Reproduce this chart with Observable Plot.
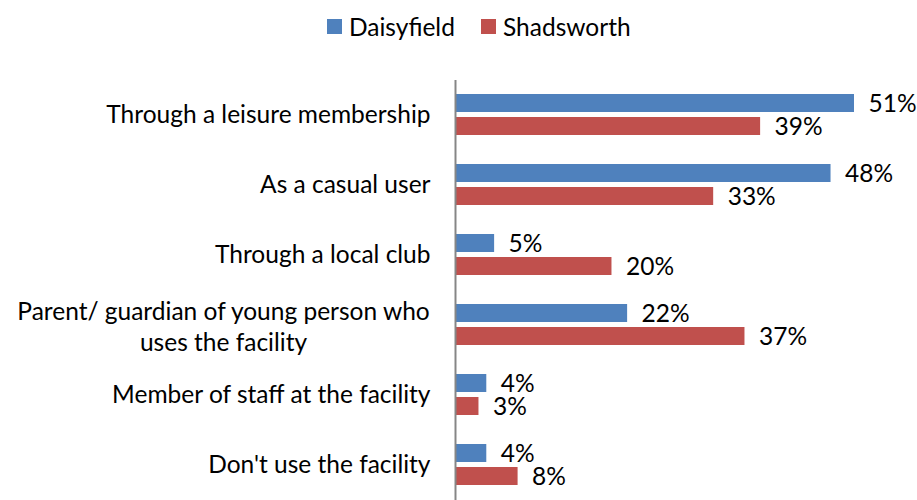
<!DOCTYPE html>
<html>
<head>
<meta charset="utf-8">
<script src="https://cdn.jsdelivr.net/npm/d3@7"></script>
<script src="https://cdn.jsdelivr.net/npm/@observablehq/plot@0.6"></script>
<style>
  html, body { margin: 0; padding: 0; background: #fff; }
  body { width: 917px; height: 500px; overflow: hidden; font-family: Lato, "Open Sans", sans-serif; }
  #legend { position: relative; height: 60px; }
  .item { position: absolute; top: 12px; height: 28px; display: flex; align-items: center; font-size: 24.5px; color: #000; }
  .sw { width: 15px; height: 15px; margin-right: 7px; }
</style>
</head>
<body>
<div id="legend"></div>
<div id="chart"></div>
<script>
const categories = [
  "Through a leisure membership",
  "As a casual user",
  "Through a local club",
  "Parent/ guardian of young person who\nuses the facility",
  "Member of staff at the facility",
  "Don't use the facility"
];
const seriesNames = ["Daisyfield", "Shadsworth"];
const daisyfield = [51, 48, 5, 22, 4, 4];
const shadsworth = [39, 33, 20, 37, 3, 8];
const colors = ["#4F81BD", "#C0504D"];

const FONT = "Lato";
const FS = 24.5;

// legend
const legend = document.getElementById("legend");
const legendX = [327, 481];
seriesNames.forEach((s, i) => {
  const it = document.createElement("div");
  it.className = "item";
  it.style.left = legendX[i] + "px";
  it.innerHTML = `<div class="sw" style="background:${colors[i]}"></div><span>${s}</span>`;
  legend.appendChild(it);
});

const rows = [];
categories.forEach((c, i) => {
  rows.push({category: c, series: seriesNames[0], value: daisyfield[i]});
  rows.push({category: c, series: seriesNames[1], value: shadsworth[i]});
});

const ctx = document.createElement("canvas").getContext("2d");
ctx.font = `${FS}px ${FONT}`;
const single = categories.filter(c => !c.includes("\n"));
const multi = categories.filter(c => c.includes("\n"));

const marks = [
  Plot.barX(rows, {x: "value", y: "series", fy: "category", fill: "series"}),
  Plot.ruleX([0], {stroke: "#868686", strokeWidth: 2}),
  Plot.text(rows, {x: "value", y: "series", fy: "category", text: d => d.value + "%",
    textAnchor: "start", dx: 14, dy: 1, fontSize: FS, fill: "#000"}),
  Plot.text(single, {fy: d => d, frameAnchor: "left", text: d => d, textAnchor: "end",
    dx: -25, fontSize: FS, fill: "#000"})
];
multi.forEach(c => {
  const w = Math.max(...c.split("\n").map(l => ctx.measureText(l).width));
  marks.push(Plot.text([c], {fy: d => d, frameAnchor: "left", text: d => d, textAnchor: "middle",
    dx: -25 - w / 2, lineHeight: 1.27, fontSize: FS, fill: "#000"}));
});

const chart = Plot.plot({
  width: 917,
  height: 440,
  marginTop: 20,
  marginBottom: 0,
  marginLeft: 455,
  marginRight: 10,
  style: {fontFamily: FONT, background: "#fff"},
  x: {domain: [0, 51], range: [455, 854], axis: null},
  y: {domain: seriesNames, paddingInner: 0.2, paddingOuter: 0.6, axis: null},
  fy: {domain: categories, padding: 0, axis: null},
  color: {domain: seriesNames, range: colors},
  marks
});
document.getElementById("chart").appendChild(chart);
</script>
</body>
</html>
